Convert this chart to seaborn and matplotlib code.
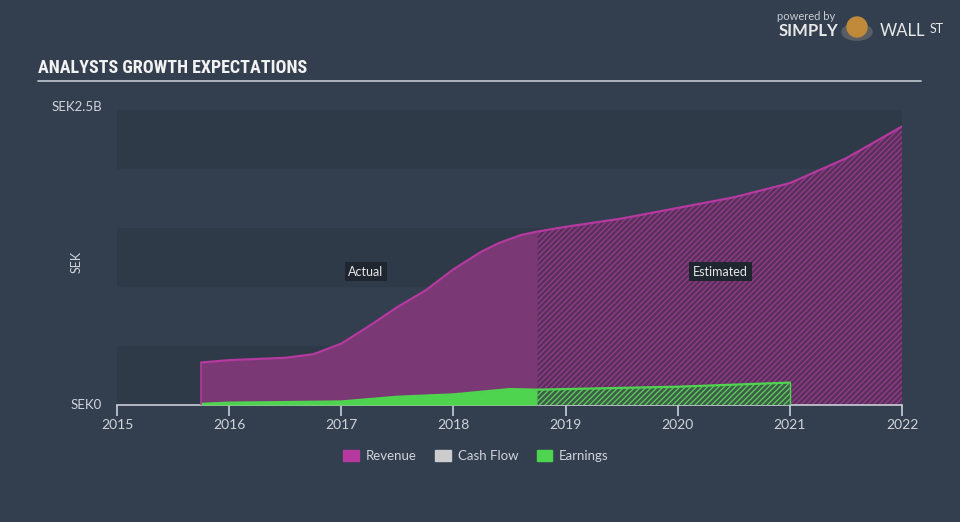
import matplotlib
matplotlib.use("Agg")
import matplotlib.pyplot as plt
import seaborn as sns
import numpy as np
import pandas as pd
from matplotlib import font_manager

# ---- data (SEK billions) ----
rev_years = [2015.75, 2016.0, 2016.5, 2016.75, 2017.0, 2017.1, 2017.25, 2017.5, 2017.75,
             2018.0, 2018.25, 2018.4, 2018.6, 2018.75, 2019.0, 2019.5, 2020.0, 2020.5,
             2021.0, 2021.5, 2022.0]
rev_values = [0.36, 0.38, 0.40, 0.43, 0.52, 0.58, 0.67, 0.83, 0.97,
              1.15, 1.30, 1.37, 1.44, 1.47, 1.51, 1.58, 1.67, 1.76,
              1.88, 2.09, 2.36]
earn_years = [2015.75, 2016.0, 2016.5, 2017.0, 2017.5, 2018.0, 2018.5, 2018.75,
              2019.0, 2020.0, 2021.0]
earn_values = [0.01, 0.02, 0.025, 0.03, 0.07, 0.09, 0.135, 0.13,
               0.135, 0.155, 0.19]
split_year = 2018.75
year_ticks = [2015, 2016, 2017, 2018, 2019, 2020, 2021, 2022]
y_tick_labels = ["SEK0", "SEK2.5B"]
legend_labels = ["Revenue", "Cash Flow", "Earnings"]

BG = "#333f4f"
BAND_D = "#2f3a49"
TXT = "#d0d4da"
REV_LINE = "#b5399e"
REV_FILL = "#7a3874"
REV_EST = "#5b2f5c"
REV_HATCH = "#8e3d88"
EARN_FILL = "#4fd44f"
EARN_EST = "#3b5d46"
EARN_HATCH = "#5ec65e"
CASH = "#cccccc"

sns.set_theme(style="dark")
plt.rcParams["font.family"] = ["Lato", "DejaVu Sans"]
plt.rcParams["hatch.linewidth"] = 1.0

names = {f.name for f in font_manager.fontManager.ttflist}
title_family = ["DejaVu Sans"]
title_size = 9.5
for cand in ["Liberation Sans Narrow", "Roboto Condensed", "Open Sans Condensed", "DejaVu Sans Condensed"]:
    if cand in names:
        title_family = [cand, "DejaVu Sans"]
        title_size = 13
        break

fig = plt.figure(figsize=(9.6, 5.22), dpi=100)
fig.patch.set_facecolor(BG)
W, H = 960, 522
ax = fig.add_axes([117 / W, (H - 405) / H, (902 - 117) / W, (405 - 110) / H])
ax.set_facecolor(BG)

for i in range(5):
    lo = i * 0.5
    if i % 2 == 0:
        ax.axhspan(lo, lo + 0.5, color=BAND_D, zorder=0, lw=0)

rev = pd.DataFrame({"year": rev_years, "value": rev_values})
earn = pd.DataFrame({"year": earn_years, "value": earn_values})

ra = rev[rev.year <= split_year]
re_ = rev[rev.year >= split_year]
ea = earn[earn.year <= split_year]
ee = earn[earn.year >= split_year]

ax.fill_between(ra.year, 0, ra.value, color=REV_FILL, lw=0, zorder=2)
ax.fill_between(re_.year, 0, re_.value, facecolor=REV_EST, edgecolor=REV_HATCH,
                hatch="//////", lw=0, zorder=2)
ax.fill_between(ea.year, 0, ea.value, color=EARN_FILL, lw=0, zorder=3)
ax.fill_between(ee.year, 0, ee.value, facecolor=EARN_EST, edgecolor=EARN_HATCH,
                hatch="//////", lw=0, zorder=3)

sns.lineplot(data=rev, x="year", y="value", color=REV_LINE, lw=1.6, ax=ax,
             zorder=4, legend=False)
sns.lineplot(data=earn, x="year", y="value", color=EARN_FILL, lw=1.6, ax=ax,
             zorder=4, legend=False)
ax.plot([rev_years[0]] * 2, [0, rev_values[0]], color=REV_LINE, lw=1.2, zorder=4)
ax.plot([earn_years[-1]] * 2, [0, earn_values[-1]], color=EARN_FILL, lw=1.0, zorder=4)

ax.set_xlim(2015, 2022)
ax.set_ylim(0, 2.5)
for s in ["top", "right", "left"]:
    ax.spines[s].set_visible(False)
ax.spines["bottom"].set_color("#c8ced6")
ax.spines["bottom"].set_linewidth(1.2)
ax.set_xticks(year_ticks)
ax.set_xticklabels([str(y) for y in year_ticks])
ax.tick_params(axis="x", colors="#c8ced6", length=8, width=1.2, direction="out",
               labelsize=10, labelcolor=TXT, pad=2, bottom=True)
ax.set_yticks([])
ax.set_xlabel("")
ax.set_ylabel("")
ax.grid(False)

fig.text(102 / W, 1 - 405 / H, y_tick_labels[0], color=TXT, fontsize=9.5,
         ha="right", va="center")
fig.text(102 / W, 1 - 107 / H, y_tick_labels[1], color=TXT, fontsize=9.5,
         ha="right", va="center")
fig.text(77 / W, 1 - 262 / H, "SEK", color=TXT, fontsize=9, rotation=90,
         ha="center", va="center")

for xx, lab in [(2017.22, "Actual"), (2020.38, "Estimated")]:
    ax.text(xx, 1.13, lab, color="#e6e6e6", fontsize=9, ha="center", va="center",
            zorder=6, bbox=dict(boxstyle="square,pad=0.3", fc="#1f2630", ec="none"))

fig.text(38 / W, 1 - 68 / H, "ANALYSTS GROWTH EXPECTATIONS", color="#f2f2f2",
         fontsize=title_size, fontweight="bold", family=title_family,
         ha="left", va="center")
fig.add_artist(plt.Line2D([38 / W, 921 / W], [1 - 81 / H] * 2, color="#b8bec6", lw=1.3))

fig.text(806 / W, 1 - 17 / H, "powered by", color="#c8ccd2", fontsize=8, ha="center", va="center")
fig.text(808 / W, 1 - 31 / H, "SIMPLY", color="#e8e8e8", fontsize=12, fontweight="bold",
         ha="center", va="center")
fig.text(880 / W, 1 - 31 / H, "WALL", color="#e8e8e8", fontsize=12, ha="left", va="center")
fig.text(930 / W, 1 - 29 / H, "ST", color="#e8e8e8", fontsize=9, ha="left", va="center")
fig.add_artist(matplotlib.patches.Circle((857 / W, 1 - 32 / H), 15 / W, transform=fig.transFigure,
                                         color="#5a5e64", zorder=1))
fig.add_artist(matplotlib.patches.Ellipse((857 / W, 1 - 27 / H), 20 / W, 20 / H,
                                          transform=fig.transFigure, color="#c08a3a", zorder=2))

handles = [matplotlib.patches.Patch(color=c) for c in [REV_LINE, CASH, EARN_FILL]]
leg = fig.legend(handles, legend_labels, loc="center", bbox_to_anchor=(476 / W, 1 - 456 / H),
                 ncol=3, frameon=False, fontsize=9.5, handlelength=1.2, handleheight=0.9,
                 columnspacing=1.4, handletextpad=0.5)
for t in leg.get_texts():
    t.set_color(TXT)

fig.savefig("out.png", dpi=100, facecolor=BG)
